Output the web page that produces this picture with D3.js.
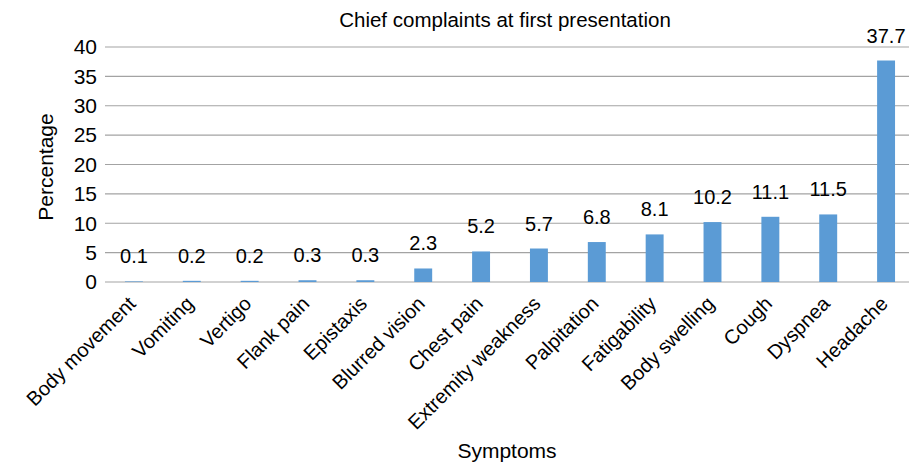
<!DOCTYPE html>
<html>
<head>
<meta charset="utf-8">
<script src="https://cdn.jsdelivr.net/npm/d3@7"></script>
<style>
  body { margin: 0; background: #fff; }
  svg { display: block; font-family: "Liberation Sans", Arial, sans-serif; }
</style>
</head>
<body>
<svg id="chart" width="909" height="466"></svg>
<script>
const symptoms = ["Body movement", "Vomiting", "Vertigo", "Flank pain", "Epistaxis", "Blurred vision",
  "Chest pain", "Extremity weakness", "Palpitation", "Fatigability", "Body swelling", "Cough", "Dyspnea", "Headache"];
const percentages = [0.1, 0.2, 0.2, 0.3, 0.3, 2.3, 5.2, 5.7, 6.8, 8.1, 10.2, 11.1, 11.5, 37.7];
const yTicks = [0, 5, 10, 15, 20, 25, 30, 35, 40];

const svg = d3.select("#chart");
const margin = { top: 47, left: 105 };
const plotW = 810, plotH = 235;

const x = d3.scaleBand()
  .domain(symptoms)
  .range([margin.left, margin.left + plotW])
  .paddingInner(0.69)
  .paddingOuter(0.345);

const y = d3.scaleLinear()
  .domain([0, 40])
  .range([margin.top + plotH, margin.top]);

const cx = d => x(d) + x.bandwidth() / 2;

// gridlines
svg.append("g")
  .selectAll("line")
  .data(yTicks)
  .join("line")
  .attr("x1", margin.left)
  .attr("x2", margin.left + plotW)
  .attr("y1", d => y(d))
  .attr("y2", d => y(d))
  .attr("stroke", "#a3a3a3")
  .attr("stroke-width", 1.2);

// y axis labels
svg.append("g")
  .selectAll("text")
  .data(yTicks)
  .join("text")
  .attr("x", margin.left - 8)
  .attr("y", d => y(d))
  .attr("dy", "0.35em")
  .attr("text-anchor", "end")
  .attr("font-size", 21)
  .attr("fill", "#000")
  .text(d => d);

// bars
svg.append("g")
  .selectAll("rect")
  .data(percentages)
  .join("rect")
  .attr("x", (d, i) => x(symptoms[i]))
  .attr("width", x.bandwidth())
  .attr("y", d => y(d))
  .attr("height", d => y(0) - y(d))
  .attr("fill", "#5b9bd5");

// value labels
svg.append("g")
  .selectAll("text")
  .data(percentages)
  .join("text")
  .attr("x", (d, i) => cx(symptoms[i]))
  .attr("y", d => y(d) - 18)
  .attr("text-anchor", "middle")
  .attr("font-size", 20)
  .attr("fill", "#000")
  .text(d => d.toFixed(1));

// x category labels, end of baseline just below each bar
svg.append("g")
  .selectAll("text")
  .data(symptoms)
  .join("text")
  .attr("transform", d => `translate(${cx(d) + 3},${y(0) + 23}) rotate(-45)`)
  .attr("text-anchor", "end")
  .attr("font-size", 20)
  .attr("fill", "#000")
  .text(d => d);

svg.append("text")
  .attr("x", 505)
  .attr("y", 27)
  .attr("text-anchor", "middle")
  .attr("font-size", 20.5)
  .text("Chief complaints at first presentation");

svg.append("text")
  .attr("transform", `translate(53,167) rotate(-90)`)
  .attr("text-anchor", "middle")
  .attr("font-size", 21)
  .text("Percentage");

svg.append("text")
  .attr("x", 507)
  .attr("y", 458)
  .attr("text-anchor", "middle")
  .attr("font-size", 21)
  .text("Symptoms");
</script>
</body>
</html>
